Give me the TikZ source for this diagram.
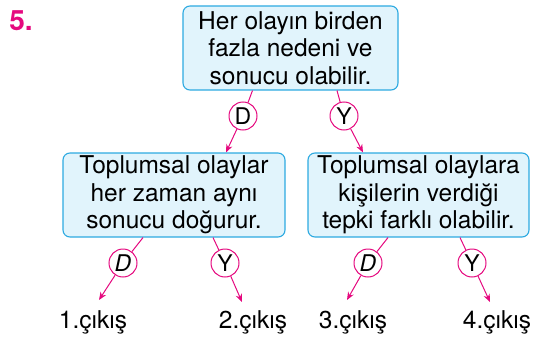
\documentclass[tikz,border=0pt]{standalone}
\usepackage{fontspec}
\setmainfont{TeX Gyre Heros}
\usetikzlibrary{arrows.meta}
\definecolor{boxfill}{HTML}{E1F4FC}
\definecolor{boxline}{HTML}{2DAAE1}
\definecolor{mag}{HTML}{E5097F}
\begin{document}
\begin{tikzpicture}[
x=1pt, y=-1pt,
font=\fontsize{24.5}{27.5}\selectfont,
box/.style = {shape=rectangle, rounded corners=7pt, draw=boxline, fill=boxfill, line width=1.1pt, align=center, minimum width=#1, minimum height=84pt, inner sep=0pt},
choice/.style = {shape=circle, draw=mag, fill=white, line width=1pt, minimum size=28pt, inner sep=0pt, font=\fontsize{23}{23}\selectfont},
link/.style = {draw=mag, line width=1pt},
arrow/.style = {link, -{Stealth[length=8pt,width=6.5pt]}},
]
  \useasboundingbox (0,0) rectangle (535,337);
  \node[text=mag, font=\fontsize{28}{28}\bfseries\selectfont] (num) at (21,21) {5.};

  \node[box=215pt] (top) at (290.5,48) {Her olayın birden\\fazla nedeni ve\\sonucu olabilir.};
  \node[box=222pt] (left) at (174,195) {Toplumsal olaylar\\her zaman aynı\\sonucu doğurur.};
  \node[box=221pt] (right) at (418.5,195) {Toplumsal olaylara\\kişilerin verdiği\\tepki farklı olabilir.};

  \node[choice] (d0) at (243,116) {D};
  \node[choice] (y0) at (344,116) {Y};
  \draw[link] ([xshift=-38pt]top.south) -- (d0);
  \draw[link] ([xshift=46.5pt]top.south) -- (y0);
  \draw[arrow] (d0) -- ([xshift=52pt]left.north);
  \draw[arrow] (y0) -- ([xshift=-55.5pt]right.north);

  \node[choice] (d1) at (123,263) {\itshape D};
  \node[choice] (y1) at (225,263) {Y};
  \node[choice] (d2) at (368,263) {\itshape D};
  \node[choice] (y2) at (472,263) {Y};

  \node (out1) at (93,322) {1.çıkış};
  \node (out2) at (253,322) {2.çıkış};
  \node (out3) at (353,322) {3.çıkış};
  \node (out4) at (497,322) {4.çıkış};

  \coordinate (t1) at (99,300);
  \coordinate (t2) at (242,302);
  \coordinate (t3) at (347,300);
  \coordinate (t4) at (490,302);

  \draw[link] ([xshift=-31pt]left.south) -- (d1);
  \draw[link] ([xshift=39pt]left.south) -- (y1);
  \draw[link] ([xshift=-30.5pt]right.south) -- (d2);
  \draw[link] ([xshift=41.5pt]right.south) -- (y2);
  \foreach \c/\t in {d1/t1, y1/t2, d2/t3, y2/t4}
    \draw[arrow] (\c) -- (\t);
\end{tikzpicture}
\end{document}
